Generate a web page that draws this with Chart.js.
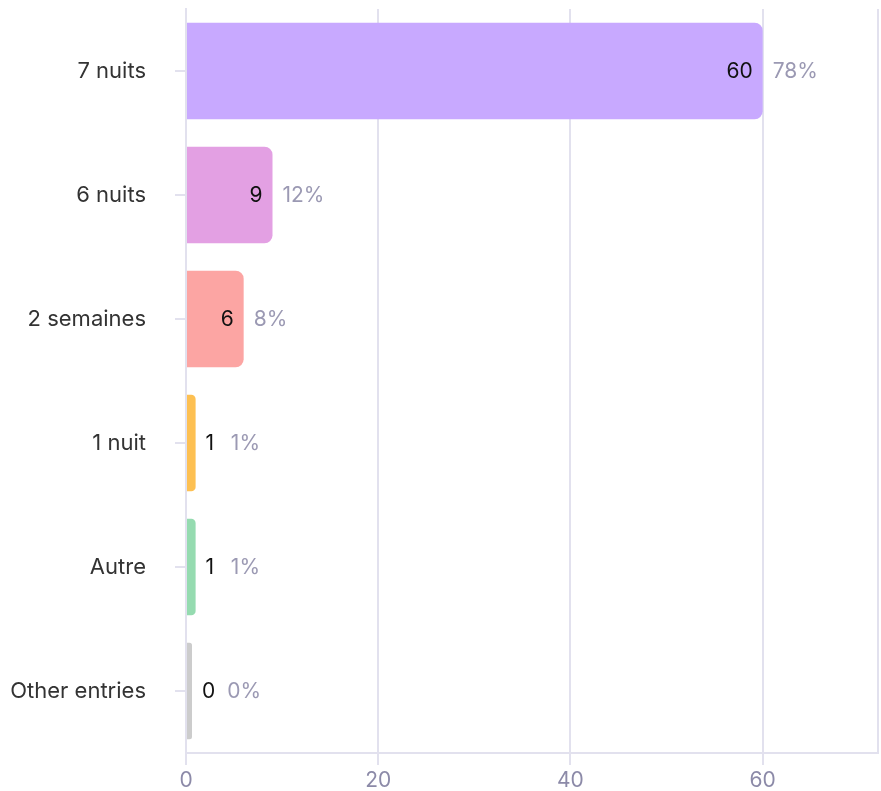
<!DOCTYPE html>
<html>
<head>
<meta charset="utf-8">
<script src="https://cdn.jsdelivr.net/npm/chart.js@4"></script>
<style>
  html, body { margin: 0; padding: 0; background: #fff; }
  #wrap { width: 881px; height: 791px; }
</style>
</head>
<body>
<div id="wrap"><canvas id="chart"></canvas></div>
<script>
// Data
const categories = ['7 nuits', '6 nuits', '2 semaines', '1 nuit', 'Autre', 'Other entries'];
const counts = [60, 9, 6, 1, 1, 0];
const barColors = ['#c8a9ff', '#e3a0e3', '#fca5a3', '#fdc052', '#95dbb0', '#cccccc'];
const xTicks = [0, 20, 40, 60];

const FONT = 'Inter, "Open Sans", sans-serif';
const FSIZE = 22;
const total = counts.reduce((a, b) => a + b, 0);

// Draws "value  pct%" at the end of each bar
const valueLabels = {
    id: 'valueLabels',
    afterDatasetsDraw(chart) {
        const ctx = chart.ctx;
        const meta = chart.getDatasetMeta(0);
        ctx.save();
        ctx.font = '21px ' + FONT;
        ctx.textBaseline = 'middle';
        meta.data.forEach((bar, i) => {
            const val = String(counts[i]);
            const pct = Math.round(counts[i] / total * 100) + '%';
            const w = bar.x - bar.base;
            const tw = Math.max(ctx.measureText(val).width, ctx.measureText('0').width);
            let pctX;
            ctx.fillStyle = '#111111';
            if (w > tw + 24) {
                ctx.textAlign = 'right';
                ctx.fillText(val, bar.x - 10, bar.y + 1);
                pctX = bar.x + 10;
            } else {
                ctx.textAlign = 'left';
                ctx.fillText(val, bar.x + 10, bar.y + 1);
                pctX = bar.x + 10 + tw + 12;
            }
            ctx.textAlign = 'left';
            ctx.fillStyle = '#9b99b3';
            ctx.fillText(pct, pctX, bar.y + 1);
        });
        ctx.restore();
    }
};

new Chart(document.getElementById('chart'), {
    type: 'bar',
    data: {
        labels: categories,
        datasets: [{
            data: counts,
            backgroundColor: barColors,
            borderWidth: 0,
            borderRadius: 8,
            borderSkipped: 'start',
            barPercentage: 0.78,
            categoryPercentage: 1,
            minBarLength: 6
        }]
    },
    options: {
        indexAxis: 'y',
        responsive: true,
        maintainAspectRatio: false,
        animation: false,
        layout: { padding: { top: 9, right: 3, left: 0, bottom: 0 } },
        plugins: {
            legend: { display: false },
            tooltip: { enabled: false }
        },
        scales: {
            x: {
                min: 0,
                max: 72,
                afterBuildTicks(scale) {
                    scale.ticks = xTicks.concat([72]).map(v => ({ value: v }));
                },
                afterFit(scale) { scale.height = 38; },
                grid: {
                    color: '#e2e1ee',
                    lineWidth: 2,
                    tickLength: 12,
                    tickColor: ctx => (ctx.tick && ctx.tick.value === 72) ? 'rgba(0,0,0,0)' : '#e2e1ee'
                },
                border: { color: '#e2e1ee', width: 2 },
                ticks: {
                    color: '#8c8aa8',
                    font: { family: FONT, size: 21 },
                    padding: 3,
                    maxRotation: 0,
                    callback: v => xTicks.includes(v) ? v : ''
                }
            },
            y: {
                afterFit(scale) {
                    scale.width = 186;
                    scale.paddingTop = 0;
                    scale.paddingBottom = 0;
                },
                grid: {
                    drawOnChartArea: false,
                    offset: false,
                    color: '#e2e1ee',
                    lineWidth: 2,
                    tickLength: 11
                },
                border: { color: '#e2e1ee', width: 2 },
                ticks: {
                    color: '#333333',
                    font: { family: FONT, size: FSIZE },
                    padding: 29
                }
            }
        }
    },
    plugins: [valueLabels]
});
</script>
</body>
</html>
